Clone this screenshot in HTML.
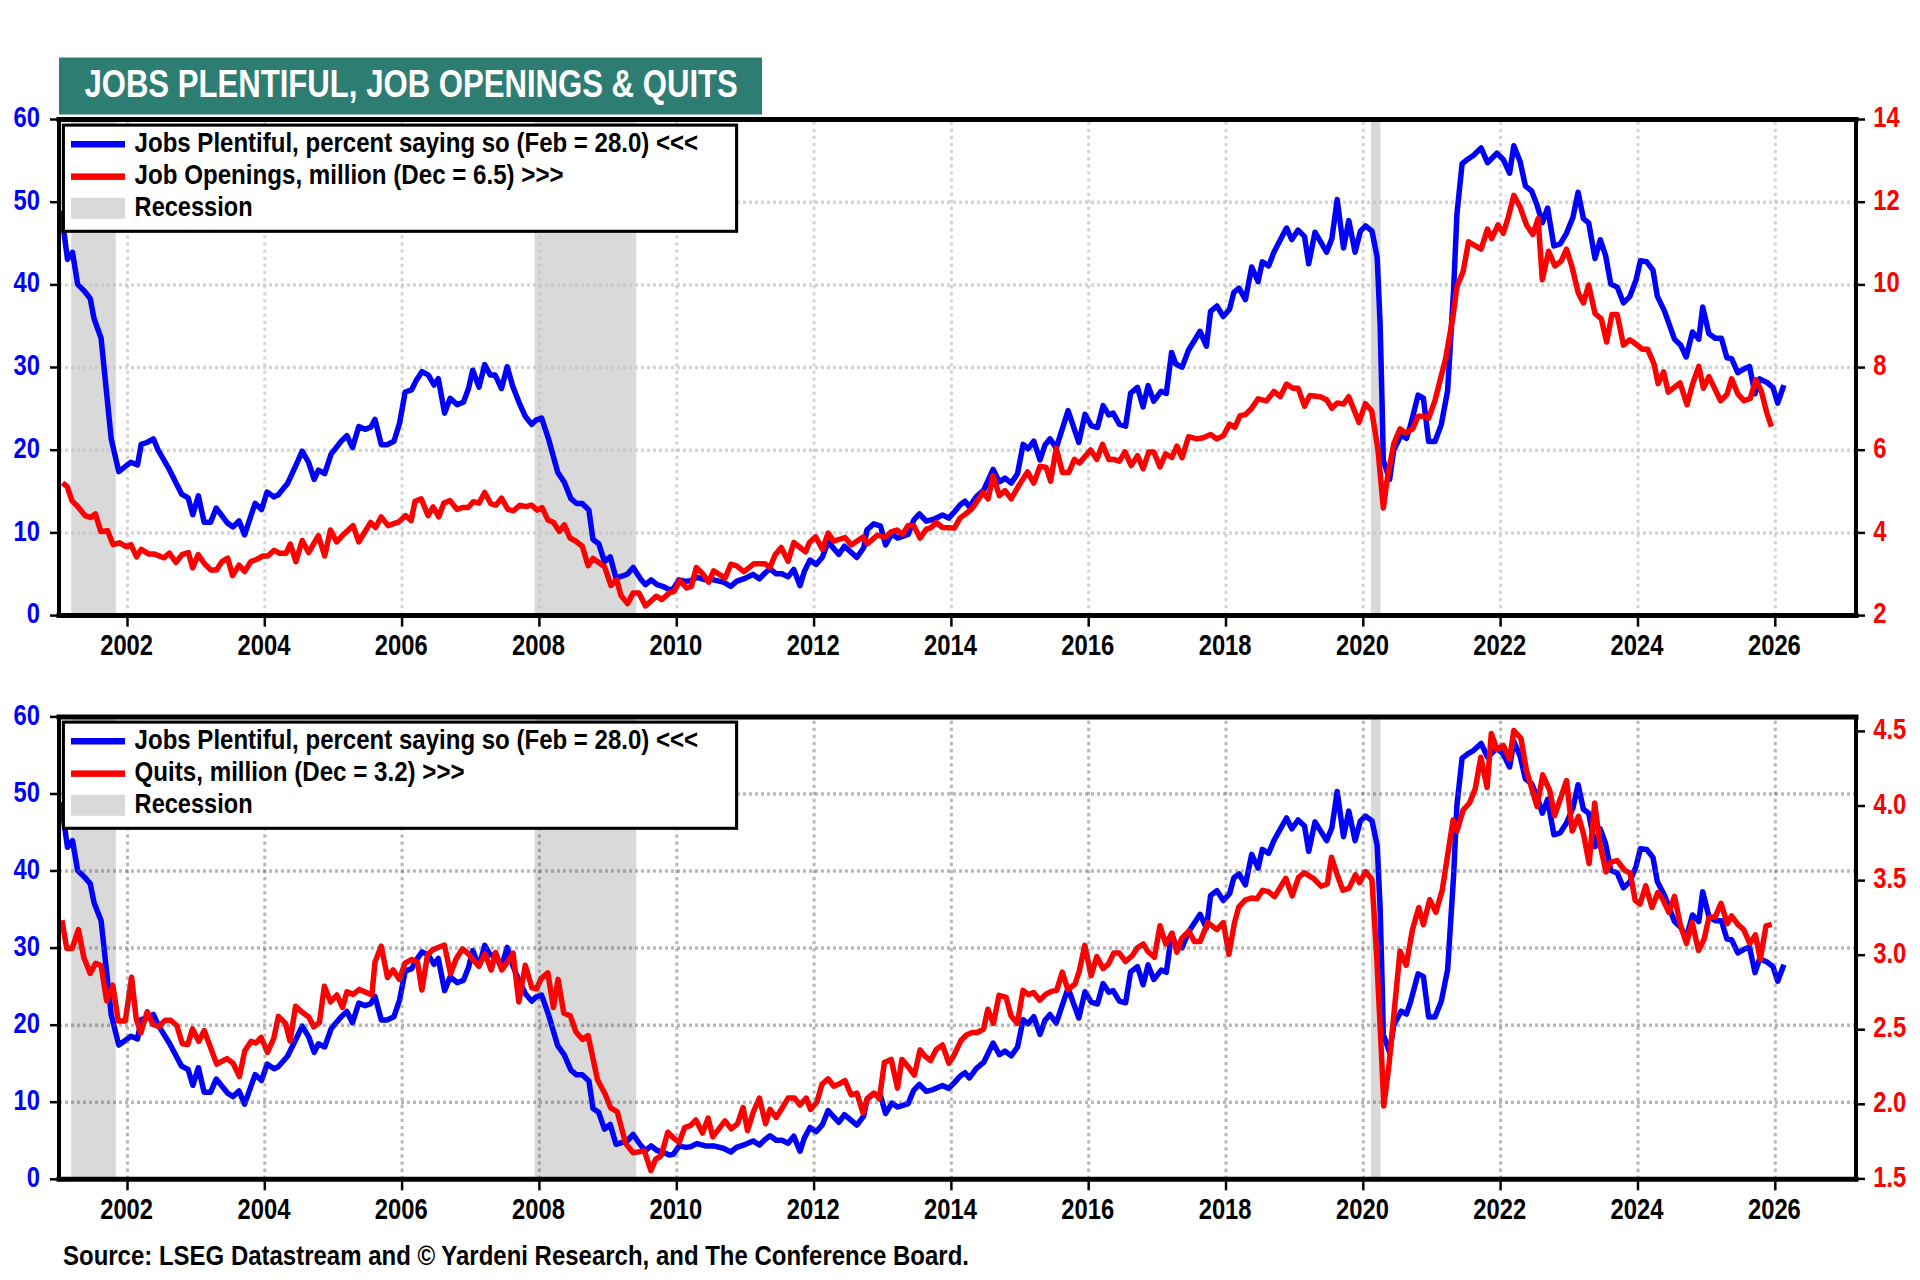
<!DOCTYPE html><html><head><meta charset="utf-8"><style>html,body{margin:0;padding:0;background:#fff;width:1920px;height:1280px;overflow:hidden}text{font-family:'Liberation Sans', sans-serif}</style></head><body><svg width="1920" height="1280" viewBox="0 0 1920 1280" style="display:block;font-family:'Liberation Sans', sans-serif"><rect x="59" y="57.5" width="703" height="57" fill="#2e7d72"/>
<text x="84.4" y="96.9" font-size="39.4" font-weight="bold" fill="#fff" text-anchor="start" textLength="653.4" lengthAdjust="spacingAndGlyphs">JOBS PLENTIFUL, JOB OPENINGS &amp; QUITS</text>
<rect x="71.2" y="119.5" width="44.6" height="496.1" fill="#d9d9d9"/>
<rect x="534.6" y="119.5" width="101.6" height="496.1" fill="#d9d9d9"/>
<rect x="1370.9" y="119.5" width="9.6" height="496.1" fill="#d9d9d9"/>
<line x1="61.0" y1="532.9" x2="1854.0" y2="532.9" stroke="rgba(199,199,199,0.74)" stroke-width="3.5" stroke-dasharray="3 3" stroke-dashoffset="2"/>
<line x1="61.0" y1="450.2" x2="1854.0" y2="450.2" stroke="rgba(199,199,199,0.74)" stroke-width="3.5" stroke-dasharray="3 3" stroke-dashoffset="2"/>
<line x1="61.0" y1="367.5" x2="1854.0" y2="367.5" stroke="rgba(199,199,199,0.74)" stroke-width="3.5" stroke-dasharray="3 3" stroke-dashoffset="2"/>
<line x1="61.0" y1="284.9" x2="1854.0" y2="284.9" stroke="rgba(199,199,199,0.74)" stroke-width="3.5" stroke-dasharray="3 3" stroke-dashoffset="2"/>
<line x1="61.0" y1="202.2" x2="1854.0" y2="202.2" stroke="rgba(199,199,199,0.74)" stroke-width="3.5" stroke-dasharray="3 3" stroke-dashoffset="2"/>
<line x1="127.5" y1="121.5" x2="127.5" y2="613.6" stroke="rgba(199,199,199,0.74)" stroke-width="3" stroke-dasharray="3.3 3.81" stroke-dashoffset="7.06"/>
<line x1="264.8" y1="121.5" x2="264.8" y2="613.6" stroke="rgba(199,199,199,0.74)" stroke-width="3" stroke-dasharray="3.3 3.81" stroke-dashoffset="7.06"/>
<line x1="402.1" y1="121.5" x2="402.1" y2="613.6" stroke="rgba(199,199,199,0.74)" stroke-width="3" stroke-dasharray="3.3 3.81" stroke-dashoffset="7.06"/>
<line x1="539.4" y1="121.5" x2="539.4" y2="613.6" stroke="rgba(199,199,199,0.74)" stroke-width="3" stroke-dasharray="3.3 3.81" stroke-dashoffset="7.06"/>
<line x1="676.8" y1="121.5" x2="676.8" y2="613.6" stroke="rgba(199,199,199,0.74)" stroke-width="3" stroke-dasharray="3.3 3.81" stroke-dashoffset="7.06"/>
<line x1="814.1" y1="121.5" x2="814.1" y2="613.6" stroke="rgba(199,199,199,0.74)" stroke-width="3" stroke-dasharray="3.3 3.81" stroke-dashoffset="7.06"/>
<line x1="951.4" y1="121.5" x2="951.4" y2="613.6" stroke="rgba(199,199,199,0.74)" stroke-width="3" stroke-dasharray="3.3 3.81" stroke-dashoffset="7.06"/>
<line x1="1088.7" y1="121.5" x2="1088.7" y2="613.6" stroke="rgba(199,199,199,0.74)" stroke-width="3" stroke-dasharray="3.3 3.81" stroke-dashoffset="7.06"/>
<line x1="1226.0" y1="121.5" x2="1226.0" y2="613.6" stroke="rgba(199,199,199,0.74)" stroke-width="3" stroke-dasharray="3.3 3.81" stroke-dashoffset="7.06"/>
<line x1="1363.3" y1="121.5" x2="1363.3" y2="613.6" stroke="rgba(199,199,199,0.74)" stroke-width="3" stroke-dasharray="3.3 3.81" stroke-dashoffset="7.06"/>
<line x1="1500.6" y1="121.5" x2="1500.6" y2="613.6" stroke="rgba(199,199,199,0.74)" stroke-width="3" stroke-dasharray="3.3 3.81" stroke-dashoffset="7.06"/>
<line x1="1638.0" y1="121.5" x2="1638.0" y2="613.6" stroke="rgba(199,199,199,0.74)" stroke-width="3" stroke-dasharray="3.3 3.81" stroke-dashoffset="7.06"/>
<line x1="1775.3" y1="121.5" x2="1775.3" y2="613.6" stroke="rgba(199,199,199,0.74)" stroke-width="3" stroke-dasharray="3.3 3.81" stroke-dashoffset="7.06"/>
<polyline fill="none" stroke="#0000ff" stroke-width="5.5" stroke-linejoin="round" points="61.2,210.9 67.5,259.4 72.5,252.3 77.7,284.4 83.9,290.6 90.2,298.4 94.1,318.8 101.1,338.3 111.2,438.8 118.8,471.6 130.9,462.2 137.5,465.0 141.2,444.4 146.9,442.5 153.4,438.8 158.1,450.0 169.4,469.7 181.6,494.1 188.1,497.8 192.8,514.7 198.4,495.9 204.1,522.2 210.6,522.2 216.2,508.1 227.5,523.1 233.1,526.9 239.0,520.8 244.6,534.9 255.1,503.3 261.5,509.6 267.1,492.0 274.1,496.9 278.3,494.8 287.5,483.6 295.9,465.3 302.2,451.2 308.6,462.5 314.2,479.4 318.4,470.2 324.7,473.7 331.1,454.1 341.2,441.2 346.9,435.6 352.5,447.6 358.8,426.5 365.1,429.3 370.8,427.2 375.0,419.4 381.3,444.7 386.9,444.7 394.0,441.2 399.6,423.0 405.2,392.0 411.5,389.9 416.5,380.1 422.1,371.6 428.4,375.1 434.0,385.0 438.3,378.7 444.6,413.1 450.2,398.3 457.2,404.7 463.6,401.9 468.5,388.5 472.7,370.2 479.0,387.1 484.7,364.6 490.3,375.1 495.2,375.1 501.5,388.5 507.2,366.7 512.8,386.4 519.1,402.6 525.4,416.6 531.8,424.4 536.0,420.1 541.6,418.0 548.7,439.5 557.7,472.3 564.3,482.2 570.9,498.6 576.6,503.5 582.3,503.5 588.9,510.1 593.0,539.6 598.7,543.7 604.5,561.7 610.2,556.8 616.0,578.1 623.3,575.7 627.5,574.0 633.2,567.5 640.6,579.0 645.5,584.7 651.2,579.8 657.0,584.7 662.7,586.3 669.3,589.6 673.4,588.8 679.1,579.8 685.7,581.4 690.6,580.6 697.2,577.3 705.4,579.8 713.6,579.8 723.4,582.2 730.8,586.3 736.5,581.4 745.6,578.1 753.1,574.4 759.4,578.8 765.6,572.5 770.0,568.8 776.2,573.8 781.9,573.8 788.1,576.9 793.8,569.4 800.0,585.6 804.4,571.2 810.0,560.0 816.2,564.4 822.5,556.9 828.1,541.9 838.8,554.4 844.4,546.2 856.9,557.5 863.8,547.5 866.9,530.0 873.8,523.8 880.6,526.2 885.6,545.0 891.9,533.8 897.5,538.1 908.1,534.4 913.8,520.0 919.4,513.8 926.2,521.2 933.1,519.4 942.5,515.0 948.8,518.1 954.4,511.9 960.0,505.0 965.0,501.2 969.4,506.9 976.2,496.9 983.8,490.0 993.1,469.4 999.4,481.9 1005.0,478.1 1011.2,483.1 1017.5,473.8 1023.1,444.4 1028.1,448.8 1033.8,441.2 1040.0,460.0 1045.0,445.0 1050.0,438.8 1056.2,448.1 1068.1,410.6 1078.8,442.5 1085.0,414.4 1091.2,425.6 1097.5,427.5 1103.1,405.6 1108.8,415.0 1113.1,413.1 1119.4,424.4 1125.6,426.2 1130.6,393.1 1137.5,387.5 1143.1,406.9 1148.1,385.6 1153.8,401.2 1161.2,391.2 1166.3,393.5 1171.6,352.4 1175.8,364.0 1182.1,367.2 1188.5,350.3 1200.1,331.3 1206.4,346.1 1210.6,311.3 1216.9,306.0 1223.3,316.5 1229.6,309.2 1233.8,292.3 1239.1,288.1 1245.4,299.7 1251.7,267.0 1258.1,281.7 1262.3,261.7 1268.6,265.9 1273.9,252.2 1286.5,228.0 1291.8,239.6 1298.1,230.1 1304.5,236.4 1308.7,263.8 1315.0,232.2 1326.6,252.2 1331.9,238.5 1337.2,199.5 1343.5,248.0 1348.8,220.6 1355.1,252.2 1360.4,231.1 1365.6,225.9 1372.0,231.1 1377.2,257.5 1380.1,323.3 1382.2,407.7 1383.3,460.5 1389.6,479.5 1393.8,449.9 1401.2,435.1 1406.5,438.3 1410.7,424.6 1418.1,395.1 1423.4,398.2 1428.6,441.5 1435.0,441.5 1441.3,424.6 1447.6,390.8 1453.7,288.2 1456.9,214.4 1462.1,163.7 1467.4,159.5 1473.7,155.3 1481.1,147.9 1487.5,162.7 1496.9,153.2 1503.3,159.5 1509.6,173.2 1513.8,145.8 1520.1,161.6 1525.4,185.9 1531.7,191.2 1537.0,204.9 1542.3,222.8 1547.6,208.0 1553.9,246.0 1560.2,243.9 1566.5,233.3 1572.9,217.5 1578.1,192.2 1583.4,218.6 1588.7,222.8 1595.0,258.6 1600.3,239.7 1605.6,255.5 1610.8,284.0 1617.2,287.1 1623.5,302.9 1629.8,296.6 1636.1,279.7 1640.4,260.8 1646.7,261.8 1653.0,270.2 1657.3,296.1 1664.4,310.9 1674.5,339.1 1680.8,345.3 1686.2,357.0 1692.5,332.0 1698.8,339.1 1702.7,307.0 1708.9,333.6 1715.2,338.3 1721.4,338.3 1726.9,357.8 1731.6,358.6 1737.8,372.7 1744.1,368.8 1749.5,366.4 1755.0,393.8 1759.7,378.9 1767.5,382.8 1773.0,387.5 1777.7,403.1 1783.9,385.2"/>
<polyline fill="none" stroke="#ff0000" stroke-width="5.5" stroke-linejoin="round" points="62.5,482.8 67.2,486.6 71.9,500.6 77.5,506.2 85.0,515.6 90.6,517.5 95.3,513.8 100.9,531.6 107.5,530.6 113.1,544.7 119.7,542.8 126.2,546.6 130.9,544.7 136.6,556.9 141.2,549.4 148.8,554.1 154.4,554.1 163.8,557.8 169.4,553.1 175.9,562.5 182.0,554.6 188.4,552.5 192.6,567.9 198.2,554.6 204.5,563.7 210.9,570.1 216.5,570.1 222.1,561.6 227.7,558.1 232.6,575.7 239.0,565.1 244.6,571.5 250.9,561.6 256.5,559.5 262.9,556.0 267.8,556.0 274.1,550.4 279.7,553.2 286.1,553.2 290.3,544.0 295.9,561.6 302.2,540.5 308.6,552.5 318.4,535.6 324.7,556.0 330.4,530.0 336.7,541.9 343.7,534.2 353.1,525.6 358.8,541.9 370.6,522.5 375.6,527.5 381.2,516.9 388.1,525.6 398.8,521.9 405.6,515.6 411.2,520.6 415.0,501.2 421.2,498.8 428.1,515.6 433.1,506.9 438.8,516.9 443.8,503.1 450.0,500.6 456.9,509.4 462.5,507.5 468.1,507.5 473.4,501.7 479.0,503.1 484.7,492.5 491.0,503.8 495.9,505.2 501.5,498.2 507.9,509.4 513.5,510.8 519.8,505.2 526.1,506.6 531.1,505.2 531.5,505.1 537.2,510.1 542.1,507.6 547.9,519.9 553.6,522.4 559.4,531.4 564.3,524.8 570.0,538.0 575.8,541.2 582.3,546.2 588.1,565.8 593.0,558.5 598.7,562.6 604.5,566.7 611.0,585.5 616.8,579.8 620.9,595.4 627.5,603.6 633.2,592.9 638.9,592.9 645.5,606.0 656.2,596.2 661.9,599.5 669.3,592.9 674.2,591.3 679.9,580.6 686.5,588.0 691.4,586.3 696.3,567.5 702.9,574.0 708.7,582.2 713.6,570.8 725.1,578.1 730.8,564.2 736.5,565.8 743.9,571.6 753.8,563.8 765.0,563.8 770.0,567.5 775.0,555.0 781.2,547.5 788.1,561.2 793.8,542.5 800.0,547.5 805.6,551.9 809.4,542.5 815.6,536.9 822.5,549.4 828.1,533.1 833.8,541.2 845.0,537.5 851.2,545.0 863.1,536.9 867.5,543.8 877.5,535.0 885.0,537.5 891.2,531.9 896.9,530.0 902.5,534.4 908.1,525.6 913.8,525.6 920.0,538.1 926.2,529.4 931.2,527.5 936.2,522.5 942.5,527.5 954.4,528.1 960.0,518.1 965.0,514.4 971.9,508.8 983.1,492.5 988.1,498.8 993.1,475.6 999.4,495.6 1005.0,490.6 1011.2,498.8 1018.8,485.6 1027.5,471.9 1033.8,483.1 1040.0,466.2 1046.2,467.5 1050.6,481.2 1056.2,448.1 1062.5,472.5 1068.8,472.5 1074.4,459.4 1079.4,463.1 1090.6,450.0 1096.9,459.4 1102.5,444.4 1108.8,459.4 1113.8,459.4 1119.4,461.2 1125.0,451.9 1131.2,465.6 1137.5,455.6 1143.1,468.8 1148.8,451.9 1153.8,451.9 1160.0,466.9 1165.6,453.8 1171.9,457.5 1176.9,446.2 1182.1,457.8 1188.5,436.7 1196.9,438.9 1203.2,437.8 1210.6,434.6 1216.9,438.9 1223.3,435.7 1229.6,424.1 1234.9,427.3 1240.1,415.7 1245.4,414.6 1251.7,408.3 1258.1,398.8 1266.5,400.9 1273.9,391.4 1280.2,396.7 1286.5,384.0 1292.9,388.2 1298.1,388.2 1304.5,406.2 1309.7,395.6 1320.3,396.7 1326.6,399.8 1331.9,408.3 1337.2,403.0 1343.5,404.1 1348.8,396.7 1359.0,422.5 1365.3,403.5 1371.7,410.9 1378.0,449.9 1383.3,507.9 1387.5,477.4 1393.8,443.6 1400.1,428.8 1405.4,433.0 1412.8,428.8 1418.1,416.2 1423.4,416.2 1428.6,418.3 1435.0,400.3 1445.5,359.2 1452.9,317.0 1456.9,287.1 1463.2,271.3 1468.5,241.8 1481.1,249.2 1487.5,229.1 1491.7,238.6 1498.0,224.9 1503.3,233.3 1508.5,216.5 1513.8,195.4 1520.1,207.0 1526.5,224.9 1532.8,234.4 1538.1,218.6 1542.3,279.7 1548.6,251.3 1554.9,266.0 1561.3,260.8 1566.5,249.2 1571.8,266.0 1578.1,292.4 1583.4,302.9 1588.7,285.0 1595.0,313.5 1601.3,318.8 1606.6,342.0 1611.9,314.5 1617.2,314.5 1623.5,345.1 1629.8,339.8 1637.2,345.1 1642.5,349.3 1647.7,349.3 1654.1,364.1 1658.1,383.6 1663.6,371.9 1668.3,392.2 1680.0,382.8 1687.0,404.7 1692.5,384.4 1698.8,366.4 1703.4,388.3 1708.9,376.6 1720.6,400.8 1726.9,394.5 1731.6,378.9 1737.8,393.8 1744.1,400.8 1750.3,398.4 1755.8,379.7 1761.2,390.6 1766.7,412.5 1771.4,426.6"/>
<path d="M59.0,119.5H1856.0M59.0,615.6H1856.0" fill="none" stroke="#000" stroke-width="5" stroke-linecap="square"/>
<path d="M59.0,119.5V615.6M1856.0,119.5V615.6" fill="none" stroke="#000" stroke-width="4" stroke-linecap="square"/>
<line x1="50" y1="615.6" x2="59.0" y2="615.6" stroke="#000" stroke-width="2.5"/>
<line x1="1856.0" y1="615.6" x2="1865" y2="615.6" stroke="#000" stroke-width="2.5"/>
<text transform="translate(40.00,623.20) scale(0.82,1)" font-size="29" font-weight="bold" fill="#0000ff" text-anchor="end">0</text>
<text transform="translate(1873.20,623.20) scale(0.82,1)" font-size="29" font-weight="bold" fill="#ff0000" text-anchor="start">2</text>
<line x1="50" y1="532.9" x2="59.0" y2="532.9" stroke="#000" stroke-width="2.5"/>
<line x1="1856.0" y1="532.9" x2="1865" y2="532.9" stroke="#000" stroke-width="2.5"/>
<text transform="translate(40.00,540.52) scale(0.82,1)" font-size="29" font-weight="bold" fill="#0000ff" text-anchor="end">10</text>
<text transform="translate(1873.20,540.52) scale(0.82,1)" font-size="29" font-weight="bold" fill="#ff0000" text-anchor="start">4</text>
<line x1="50" y1="450.2" x2="59.0" y2="450.2" stroke="#000" stroke-width="2.5"/>
<line x1="1856.0" y1="450.2" x2="1865" y2="450.2" stroke="#000" stroke-width="2.5"/>
<text transform="translate(40.00,457.83) scale(0.82,1)" font-size="29" font-weight="bold" fill="#0000ff" text-anchor="end">20</text>
<text transform="translate(1873.20,457.83) scale(0.82,1)" font-size="29" font-weight="bold" fill="#ff0000" text-anchor="start">6</text>
<line x1="50" y1="367.5" x2="59.0" y2="367.5" stroke="#000" stroke-width="2.5"/>
<line x1="1856.0" y1="367.6" x2="1865" y2="367.6" stroke="#000" stroke-width="2.5"/>
<text transform="translate(40.00,375.15) scale(0.82,1)" font-size="29" font-weight="bold" fill="#0000ff" text-anchor="end">30</text>
<text transform="translate(1873.20,375.15) scale(0.82,1)" font-size="29" font-weight="bold" fill="#ff0000" text-anchor="start">8</text>
<line x1="50" y1="284.9" x2="59.0" y2="284.9" stroke="#000" stroke-width="2.5"/>
<line x1="1856.0" y1="284.9" x2="1865" y2="284.9" stroke="#000" stroke-width="2.5"/>
<text transform="translate(40.00,292.47) scale(0.82,1)" font-size="29" font-weight="bold" fill="#0000ff" text-anchor="end">40</text>
<text transform="translate(1873.20,292.47) scale(0.82,1)" font-size="29" font-weight="bold" fill="#ff0000" text-anchor="start">10</text>
<line x1="50" y1="202.2" x2="59.0" y2="202.2" stroke="#000" stroke-width="2.5"/>
<line x1="1856.0" y1="202.2" x2="1865" y2="202.2" stroke="#000" stroke-width="2.5"/>
<text transform="translate(40.00,209.78) scale(0.82,1)" font-size="29" font-weight="bold" fill="#0000ff" text-anchor="end">50</text>
<text transform="translate(1873.20,209.78) scale(0.82,1)" font-size="29" font-weight="bold" fill="#ff0000" text-anchor="start">12</text>
<line x1="50" y1="119.5" x2="59.0" y2="119.5" stroke="#000" stroke-width="2.5"/>
<line x1="1856.0" y1="119.5" x2="1865" y2="119.5" stroke="#000" stroke-width="2.5"/>
<text transform="translate(40.00,127.10) scale(0.82,1)" font-size="29" font-weight="bold" fill="#0000ff" text-anchor="end">60</text>
<text transform="translate(1873.20,127.10) scale(0.82,1)" font-size="29" font-weight="bold" fill="#ff0000" text-anchor="start">14</text>
<line x1="127.5" y1="617.6" x2="127.5" y2="626.6" stroke="#000" stroke-width="2.5"/>
<text transform="translate(126.60,655.20) scale(0.82,1)" font-size="29" font-weight="bold" fill="#000" text-anchor="middle">2002</text>
<line x1="264.8" y1="617.6" x2="264.8" y2="626.6" stroke="#000" stroke-width="2.5"/>
<text transform="translate(263.91,655.20) scale(0.82,1)" font-size="29" font-weight="bold" fill="#000" text-anchor="middle">2004</text>
<line x1="402.1" y1="617.6" x2="402.1" y2="626.6" stroke="#000" stroke-width="2.5"/>
<text transform="translate(401.23,655.20) scale(0.82,1)" font-size="29" font-weight="bold" fill="#000" text-anchor="middle">2006</text>
<line x1="539.4" y1="617.6" x2="539.4" y2="626.6" stroke="#000" stroke-width="2.5"/>
<text transform="translate(538.54,655.20) scale(0.82,1)" font-size="29" font-weight="bold" fill="#000" text-anchor="middle">2008</text>
<line x1="676.8" y1="617.6" x2="676.8" y2="626.6" stroke="#000" stroke-width="2.5"/>
<text transform="translate(675.86,655.20) scale(0.82,1)" font-size="29" font-weight="bold" fill="#000" text-anchor="middle">2010</text>
<line x1="814.1" y1="617.6" x2="814.1" y2="626.6" stroke="#000" stroke-width="2.5"/>
<text transform="translate(813.17,655.20) scale(0.82,1)" font-size="29" font-weight="bold" fill="#000" text-anchor="middle">2012</text>
<line x1="951.4" y1="617.6" x2="951.4" y2="626.6" stroke="#000" stroke-width="2.5"/>
<text transform="translate(950.48,655.20) scale(0.82,1)" font-size="29" font-weight="bold" fill="#000" text-anchor="middle">2014</text>
<line x1="1088.7" y1="617.6" x2="1088.7" y2="626.6" stroke="#000" stroke-width="2.5"/>
<text transform="translate(1087.80,655.20) scale(0.82,1)" font-size="29" font-weight="bold" fill="#000" text-anchor="middle">2016</text>
<line x1="1226.0" y1="617.6" x2="1226.0" y2="626.6" stroke="#000" stroke-width="2.5"/>
<text transform="translate(1225.11,655.20) scale(0.82,1)" font-size="29" font-weight="bold" fill="#000" text-anchor="middle">2018</text>
<line x1="1363.3" y1="617.6" x2="1363.3" y2="626.6" stroke="#000" stroke-width="2.5"/>
<text transform="translate(1362.43,655.20) scale(0.82,1)" font-size="29" font-weight="bold" fill="#000" text-anchor="middle">2020</text>
<line x1="1500.6" y1="617.6" x2="1500.6" y2="626.6" stroke="#000" stroke-width="2.5"/>
<text transform="translate(1499.74,655.20) scale(0.82,1)" font-size="29" font-weight="bold" fill="#000" text-anchor="middle">2022</text>
<line x1="1638.0" y1="617.6" x2="1638.0" y2="626.6" stroke="#000" stroke-width="2.5"/>
<text transform="translate(1637.05,655.20) scale(0.82,1)" font-size="29" font-weight="bold" fill="#000" text-anchor="middle">2024</text>
<line x1="1775.3" y1="617.6" x2="1775.3" y2="626.6" stroke="#000" stroke-width="2.5"/>
<text transform="translate(1774.37,655.20) scale(0.82,1)" font-size="29" font-weight="bold" fill="#000" text-anchor="middle">2026</text>
<rect x="63.4" y="125.1" width="673.2" height="106.2" fill="#fff" stroke="#000" stroke-width="3.1"/>
<rect x="71" y="141" width="54" height="6.5" fill="#0000ff"/>
<rect x="71" y="173.4" width="54" height="6.5" fill="#ff0000"/>
<rect x="71" y="197.8" width="54" height="21" fill="#d9d9d9"/>
<text x="134.6" y="152" font-size="28.5" font-weight="bold" fill="#000" text-anchor="start" textLength="563.5" lengthAdjust="spacingAndGlyphs">Jobs Plentiful, percent saying so (Feb = 28.0) &lt;&lt;&lt;</text>
<text x="134.6" y="184" font-size="28.5" font-weight="bold" fill="#000" text-anchor="start" textLength="429" lengthAdjust="spacingAndGlyphs">Job Openings, million (Dec = 6.5) &gt;&gt;&gt;</text>
<text x="134.6" y="216" font-size="28.5" font-weight="bold" fill="#000" text-anchor="start" textLength="118" lengthAdjust="spacingAndGlyphs">Recession</text>
<rect x="71.2" y="716.9" width="44.6" height="462.4" fill="#d9d9d9"/>
<rect x="534.6" y="716.9" width="101.6" height="462.4" fill="#d9d9d9"/>
<rect x="1370.9" y="716.9" width="9.6" height="462.4" fill="#d9d9d9"/>
<polyline fill="none" stroke="#0000ff" stroke-width="5.5" stroke-linejoin="round" points="61.2,802.1 67.5,847.3 72.5,840.7 77.7,870.6 83.9,876.4 90.2,883.6 94.1,902.7 101.1,920.8 111.2,1014.5 118.8,1045.1 130.9,1036.3 137.5,1038.9 141.2,1019.7 146.9,1018.0 153.4,1014.5 158.1,1024.9 169.4,1043.3 181.6,1066.1 188.1,1069.5 192.8,1085.3 198.4,1067.7 204.1,1092.2 210.6,1092.2 216.2,1079.1 227.5,1093.1 233.1,1096.6 239.0,1090.9 244.6,1104.1 255.1,1074.6 261.5,1080.5 267.1,1064.1 274.1,1068.7 278.3,1066.7 287.5,1056.3 295.9,1039.2 302.2,1026.1 308.6,1036.6 314.2,1052.4 318.4,1043.8 324.7,1047.0 331.1,1028.8 341.2,1016.7 346.9,1011.5 352.5,1022.7 358.8,1003.0 365.1,1005.7 370.8,1003.7 375.0,996.4 381.3,1020.0 386.9,1020.0 394.0,1016.7 399.6,999.8 405.2,970.9 411.5,968.9 416.5,959.8 422.1,951.9 428.4,955.1 434.0,964.4 438.3,958.5 444.6,990.6 450.2,976.8 457.2,982.7 463.6,980.1 468.5,967.6 472.7,950.6 479.0,966.3 484.7,945.4 490.3,955.1 495.2,955.1 501.5,967.6 507.2,947.3 512.8,965.7 519.1,980.8 525.4,993.8 531.8,1001.1 536.0,997.1 541.6,995.1 548.7,1015.2 557.7,1045.7 564.3,1055.0 570.9,1070.2 576.6,1074.8 582.3,1074.8 588.9,1081.0 593.0,1108.5 598.7,1112.3 604.5,1129.1 610.2,1124.5 616.0,1144.3 623.3,1142.1 627.5,1140.5 633.2,1134.5 640.6,1145.2 645.5,1150.5 651.2,1145.9 657.0,1150.5 662.7,1152.0 669.3,1155.1 673.4,1154.3 679.1,1145.9 685.7,1147.4 690.6,1146.7 697.2,1143.6 705.4,1145.9 713.6,1145.9 723.4,1148.2 730.8,1152.0 736.5,1147.4 745.6,1144.3 753.1,1140.9 759.4,1145.0 765.6,1139.1 770.0,1135.7 776.2,1140.3 781.9,1140.3 788.1,1143.2 793.8,1136.2 800.0,1151.3 804.4,1137.9 810.0,1127.5 816.2,1131.6 822.5,1124.6 828.1,1110.6 838.8,1122.3 844.4,1114.6 856.9,1125.1 863.8,1115.8 866.9,1099.5 873.8,1093.7 880.6,1096.0 885.6,1113.5 891.9,1103.1 897.5,1107.1 908.1,1103.6 913.8,1090.2 919.4,1084.4 926.2,1091.3 933.1,1089.6 942.5,1085.5 948.8,1088.4 954.4,1082.6 960.0,1076.2 965.0,1072.7 969.4,1078.0 976.2,1068.7 983.8,1062.2 993.1,1043.0 999.4,1054.7 1005.0,1051.1 1011.2,1055.8 1017.5,1047.1 1023.1,1019.7 1028.1,1023.8 1033.8,1016.7 1040.0,1034.3 1045.0,1020.3 1050.0,1014.5 1056.2,1023.2 1068.1,988.2 1078.8,1018.0 1085.0,991.8 1091.2,1002.2 1097.5,1004.0 1103.1,983.6 1108.8,992.3 1113.1,990.6 1119.4,1001.1 1125.6,1002.8 1130.6,971.9 1137.5,966.7 1143.1,984.8 1148.1,964.9 1153.8,979.5 1161.2,970.1 1166.3,972.3 1171.6,934.0 1175.8,944.8 1182.1,947.8 1188.5,932.0 1200.1,914.3 1206.4,928.1 1210.6,895.7 1216.9,890.7 1223.3,900.5 1229.6,893.7 1233.8,878.0 1239.1,874.0 1245.4,884.9 1251.7,854.4 1258.1,868.1 1262.3,849.4 1268.6,853.4 1273.9,840.6 1286.5,818.0 1291.8,828.8 1298.1,820.0 1304.5,825.9 1308.7,851.4 1315.0,821.9 1326.6,840.6 1331.9,827.8 1337.2,791.5 1343.5,836.7 1348.8,811.1 1355.1,840.6 1360.4,820.9 1365.6,816.1 1372.0,820.9 1377.2,845.5 1380.1,906.9 1382.2,985.5 1383.3,1034.7 1389.6,1052.4 1393.8,1024.9 1401.2,1011.1 1406.5,1014.0 1410.7,1001.3 1418.1,973.8 1423.4,976.7 1428.6,1017.0 1435.0,1017.0 1441.3,1001.3 1447.6,969.8 1453.7,874.1 1456.9,805.4 1462.1,758.1 1467.4,754.2 1473.7,750.3 1481.1,743.4 1487.5,757.2 1496.9,748.3 1503.3,754.2 1509.6,767.0 1513.8,741.4 1520.1,756.1 1525.4,778.8 1531.7,783.7 1537.0,796.5 1542.3,813.2 1547.6,799.4 1553.9,834.8 1560.2,832.8 1566.5,823.0 1572.9,808.2 1578.1,784.7 1583.4,809.3 1588.7,813.2 1595.0,846.6 1600.3,828.9 1605.6,843.7 1610.8,870.2 1617.2,873.1 1623.5,887.8 1629.8,882.0 1636.1,866.2 1640.4,848.6 1646.7,849.5 1653.0,857.4 1657.3,881.5 1664.4,895.3 1674.5,921.6 1680.8,927.4 1686.2,938.3 1692.5,915.0 1698.8,921.6 1702.7,891.7 1708.9,916.5 1715.2,920.8 1721.4,920.8 1726.9,939.0 1731.6,939.8 1737.8,952.9 1744.1,949.3 1749.5,947.0 1755.0,972.6 1759.7,958.7 1767.5,962.3 1773.0,966.7 1777.7,981.2 1783.9,964.6"/>
<polyline fill="none" stroke="#ff0000" stroke-width="5.5" stroke-linejoin="round" points="62.0,920.3 66.7,948.4 72.2,948.4 78.4,929.7 83.9,957.8 90.2,973.4 95.6,963.3 101.1,965.6 106.6,1000.8 112.8,985.2 118.3,1021.1 125.3,1021.1 131.6,977.3 136.2,1018.8 140.9,1032.8 147.2,1011.7 152.7,1024.2 158.9,1026.6 165.2,1020.3 170.6,1020.3 176.9,1025.8 182.3,1043.8 187.8,1044.5 192.5,1028.9 198.8,1041.4 204.2,1030.5 209.7,1045.3 216.7,1064.1 226.9,1058.6 233.1,1063.3 239.4,1076.6 244.8,1050.8 251.1,1041.4 255.8,1043.0 261.2,1037.5 267.5,1052.3 273.8,1038.3 278.4,1016.4 285.5,1023.4 290.0,1041.2 295.6,1006.2 302.5,1012.5 308.8,1016.9 313.8,1026.9 319.4,1022.5 324.4,986.2 330.6,1001.9 336.9,995.0 342.5,1007.5 346.9,991.9 353.1,994.4 359.4,989.4 371.9,995.0 375.0,961.9 381.2,946.2 387.5,977.5 393.1,970.0 399.4,979.4 405.0,963.1 411.9,959.4 417.5,962.5 421.9,990.0 427.5,955.0 432.5,950.0 438.1,947.5 444.4,945.0 450.6,973.8 456.2,958.8 462.5,948.8 467.5,953.1 473.8,960.6 478.8,966.2 485.0,953.8 491.2,970.0 495.6,952.5 501.9,970.0 507.5,961.9 513.1,953.1 518.8,1001.9 525.3,965.3 531.9,987.8 536.6,988.8 541.2,978.4 547.8,972.8 553.4,1007.5 558.1,979.4 563.8,1013.1 570.3,1015.9 575.9,1031.9 582.5,1039.4 588.1,1035.6 597.5,1079.7 605.0,1093.8 610.6,1107.8 617.2,1111.6 625.6,1143.4 633.1,1152.8 644.4,1150.9 650.9,1170.6 655.6,1159.4 661.2,1155.6 667.8,1132.2 673.4,1137.8 679.1,1142.5 684.7,1127.5 690.3,1125.6 695.9,1120.0 702.5,1133.1 708.1,1118.1 712.8,1136.9 725.0,1120.9 731.2,1128.8 737.5,1123.8 743.1,1107.5 747.5,1130.6 753.1,1112.5 759.4,1098.1 765.6,1123.8 770.0,1109.4 776.2,1117.5 782.5,1107.5 788.1,1098.1 794.4,1098.1 800.0,1105.0 806.2,1098.1 810.6,1109.4 816.9,1101.9 821.9,1084.4 828.1,1078.8 833.8,1086.2 839.4,1083.8 845.0,1080.6 851.2,1095.0 856.9,1093.1 863.1,1113.1 867.5,1098.1 873.8,1093.1 879.4,1098.8 884.4,1062.5 891.2,1059.4 897.5,1088.1 901.9,1059.4 908.8,1067.5 914.4,1075.0 920.0,1050.0 925.0,1056.2 930.6,1060.6 936.2,1049.4 942.5,1045.0 948.8,1063.1 953.4,1056.4 961.1,1040.3 966.7,1034.7 972.3,1032.5 977.3,1032.5 983.6,1029.0 987.8,1009.3 993.4,1023.4 999.1,995.3 1006.1,997.4 1011.0,1015.7 1017.3,1023.4 1023.0,990.4 1028.6,994.6 1033.5,992.5 1039.8,1000.2 1046.2,993.9 1052.5,991.1 1056.7,990.4 1062.3,972.1 1067.9,989.7 1075.0,984.0 1079.2,971.4 1084.8,945.4 1091.1,975.6 1096.8,956.6 1103.1,968.6 1108.7,963.7 1113.6,953.1 1119.3,953.1 1125.6,961.5 1132.6,955.2 1137.5,947.5 1143.2,944.0 1148.1,951.7 1154.4,957.3 1160.0,925.7 1165.7,944.0 1172.0,933.2 1176.9,952.2 1181.8,938.1 1188.8,931.1 1194.4,941.6 1200.1,941.6 1207.8,922.6 1216.9,929.7 1223.3,922.6 1228.9,954.3 1234.5,922.6 1238.7,907.2 1245.1,900.1 1251.4,898.0 1257.0,898.7 1262.6,890.3 1268.3,891.7 1274.6,896.6 1285.8,878.3 1292.2,895.9 1298.5,877.6 1304.1,872.7 1313.3,878.3 1321.0,886.1 1327.3,884.0 1331.5,857.3 1337.2,874.8 1342.8,890.3 1349.1,888.2 1355.4,874.8 1359.6,882.6 1365.6,871.6 1371.9,879.4 1376.6,954.4 1381.2,1048.1 1383.8,1105.9 1389.1,1063.8 1400.0,951.2 1406.2,965.3 1412.5,929.4 1418.8,907.5 1423.4,924.7 1429.7,899.7 1435.9,912.2 1442.2,890.3 1453.1,820.0 1456.9,831.1 1463.2,810.0 1469.5,803.0 1475.2,788.9 1480.8,757.3 1487.1,787.5 1491.3,733.4 1497.0,749.5 1503.3,745.3 1509.6,759.4 1513.8,730.5 1520.9,738.3 1526.5,770.6 1537.0,806.5 1542.7,774.9 1549.7,790.3 1554.6,815.6 1566.6,780.5 1572.2,831.1 1578.5,816.3 1583.5,833.9 1589.1,863.5 1594.7,803.0 1599.6,842.4 1606.0,871.9 1610.9,862.1 1617.2,860.6 1624.6,870.2 1630.2,873.1 1635.2,900.5 1640.1,904.0 1645.7,885.7 1652.0,907.5 1657.7,892.7 1662.6,899.1 1668.9,912.4 1674.5,896.3 1680.2,924.4 1686.5,943.4 1692.1,922.3 1698.5,950.4 1704.1,939.2 1709.0,917.4 1715.3,916.7 1721.0,903.3 1727.3,923.7 1731.5,915.9 1737.8,924.4 1743.5,929.3 1749.8,943.4 1755.4,934.9 1760.3,959.5 1766.0,925.8 1771.6,924.4"/>
<line x1="61.0" y1="1102.2" x2="1854.0" y2="1102.2" stroke="rgba(86,86,86,0.42)" stroke-width="3.5" stroke-dasharray="3 3" stroke-dashoffset="2"/>
<line x1="61.0" y1="1025.2" x2="1854.0" y2="1025.2" stroke="rgba(86,86,86,0.42)" stroke-width="3.5" stroke-dasharray="3 3" stroke-dashoffset="2"/>
<line x1="61.0" y1="948.1" x2="1854.0" y2="948.1" stroke="rgba(86,86,86,0.42)" stroke-width="3.5" stroke-dasharray="3 3" stroke-dashoffset="2"/>
<line x1="61.0" y1="871.0" x2="1854.0" y2="871.0" stroke="rgba(86,86,86,0.42)" stroke-width="3.5" stroke-dasharray="3 3" stroke-dashoffset="2"/>
<line x1="61.0" y1="794.0" x2="1854.0" y2="794.0" stroke="rgba(86,86,86,0.42)" stroke-width="3.5" stroke-dasharray="3 3" stroke-dashoffset="2"/>
<line x1="127.5" y1="718.9" x2="127.5" y2="1177.3" stroke="rgba(86,86,86,0.42)" stroke-width="3" stroke-dasharray="3.3 3.81" stroke-dashoffset="5.36"/>
<line x1="264.8" y1="718.9" x2="264.8" y2="1177.3" stroke="rgba(86,86,86,0.42)" stroke-width="3" stroke-dasharray="3.3 3.81" stroke-dashoffset="5.36"/>
<line x1="402.1" y1="718.9" x2="402.1" y2="1177.3" stroke="rgba(86,86,86,0.42)" stroke-width="3" stroke-dasharray="3.3 3.81" stroke-dashoffset="5.36"/>
<line x1="539.4" y1="718.9" x2="539.4" y2="1177.3" stroke="rgba(86,86,86,0.42)" stroke-width="3" stroke-dasharray="3.3 3.81" stroke-dashoffset="5.36"/>
<line x1="676.8" y1="718.9" x2="676.8" y2="1177.3" stroke="rgba(86,86,86,0.42)" stroke-width="3" stroke-dasharray="3.3 3.81" stroke-dashoffset="5.36"/>
<line x1="814.1" y1="718.9" x2="814.1" y2="1177.3" stroke="rgba(86,86,86,0.42)" stroke-width="3" stroke-dasharray="3.3 3.81" stroke-dashoffset="5.36"/>
<line x1="951.4" y1="718.9" x2="951.4" y2="1177.3" stroke="rgba(86,86,86,0.42)" stroke-width="3" stroke-dasharray="3.3 3.81" stroke-dashoffset="5.36"/>
<line x1="1088.7" y1="718.9" x2="1088.7" y2="1177.3" stroke="rgba(86,86,86,0.42)" stroke-width="3" stroke-dasharray="3.3 3.81" stroke-dashoffset="5.36"/>
<line x1="1226.0" y1="718.9" x2="1226.0" y2="1177.3" stroke="rgba(86,86,86,0.42)" stroke-width="3" stroke-dasharray="3.3 3.81" stroke-dashoffset="5.36"/>
<line x1="1363.3" y1="718.9" x2="1363.3" y2="1177.3" stroke="rgba(86,86,86,0.42)" stroke-width="3" stroke-dasharray="3.3 3.81" stroke-dashoffset="5.36"/>
<line x1="1500.6" y1="718.9" x2="1500.6" y2="1177.3" stroke="rgba(86,86,86,0.42)" stroke-width="3" stroke-dasharray="3.3 3.81" stroke-dashoffset="5.36"/>
<line x1="1638.0" y1="718.9" x2="1638.0" y2="1177.3" stroke="rgba(86,86,86,0.42)" stroke-width="3" stroke-dasharray="3.3 3.81" stroke-dashoffset="5.36"/>
<line x1="1775.3" y1="718.9" x2="1775.3" y2="1177.3" stroke="rgba(86,86,86,0.42)" stroke-width="3" stroke-dasharray="3.3 3.81" stroke-dashoffset="5.36"/>
<path d="M59.0,716.9H1856.0M59.0,1179.3H1856.0" fill="none" stroke="#000" stroke-width="5" stroke-linecap="square"/>
<path d="M59.0,716.9V1179.3M1856.0,716.9V1179.3" fill="none" stroke="#000" stroke-width="4" stroke-linecap="square"/>
<line x1="50" y1="1179.3" x2="59.0" y2="1179.3" stroke="#000" stroke-width="2.5"/>
<line x1="1856.0" y1="1178.9" x2="1865" y2="1178.9" stroke="#000" stroke-width="2.5"/>
<text transform="translate(40.00,1186.90) scale(0.82,1)" font-size="29" font-weight="bold" fill="#0000ff" text-anchor="end">0</text>
<text transform="translate(1873.20,1186.50) scale(0.82,1)" font-size="29" font-weight="bold" fill="#ff0000" text-anchor="start">1.5</text>
<line x1="50" y1="1102.2" x2="59.0" y2="1102.2" stroke="#000" stroke-width="2.5"/>
<line x1="1856.0" y1="1104.3" x2="1865" y2="1104.3" stroke="#000" stroke-width="2.5"/>
<text transform="translate(40.00,1109.83) scale(0.82,1)" font-size="29" font-weight="bold" fill="#0000ff" text-anchor="end">10</text>
<text transform="translate(1873.20,1111.92) scale(0.82,1)" font-size="29" font-weight="bold" fill="#ff0000" text-anchor="start">2.0</text>
<line x1="50" y1="1025.2" x2="59.0" y2="1025.2" stroke="#000" stroke-width="2.5"/>
<line x1="1856.0" y1="1029.7" x2="1865" y2="1029.7" stroke="#000" stroke-width="2.5"/>
<text transform="translate(40.00,1032.77) scale(0.82,1)" font-size="29" font-weight="bold" fill="#0000ff" text-anchor="end">20</text>
<text transform="translate(1873.20,1037.34) scale(0.82,1)" font-size="29" font-weight="bold" fill="#ff0000" text-anchor="start">2.5</text>
<line x1="50" y1="948.1" x2="59.0" y2="948.1" stroke="#000" stroke-width="2.5"/>
<line x1="1856.0" y1="955.2" x2="1865" y2="955.2" stroke="#000" stroke-width="2.5"/>
<text transform="translate(40.00,955.70) scale(0.82,1)" font-size="29" font-weight="bold" fill="#0000ff" text-anchor="end">30</text>
<text transform="translate(1873.20,962.76) scale(0.82,1)" font-size="29" font-weight="bold" fill="#ff0000" text-anchor="start">3.0</text>
<line x1="50" y1="871.0" x2="59.0" y2="871.0" stroke="#000" stroke-width="2.5"/>
<line x1="1856.0" y1="880.6" x2="1865" y2="880.6" stroke="#000" stroke-width="2.5"/>
<text transform="translate(40.00,878.63) scale(0.82,1)" font-size="29" font-weight="bold" fill="#0000ff" text-anchor="end">40</text>
<text transform="translate(1873.20,888.18) scale(0.82,1)" font-size="29" font-weight="bold" fill="#ff0000" text-anchor="start">3.5</text>
<line x1="50" y1="794.0" x2="59.0" y2="794.0" stroke="#000" stroke-width="2.5"/>
<line x1="1856.0" y1="806.0" x2="1865" y2="806.0" stroke="#000" stroke-width="2.5"/>
<text transform="translate(40.00,801.57) scale(0.82,1)" font-size="29" font-weight="bold" fill="#0000ff" text-anchor="end">50</text>
<text transform="translate(1873.20,813.60) scale(0.82,1)" font-size="29" font-weight="bold" fill="#ff0000" text-anchor="start">4.0</text>
<line x1="50" y1="716.9" x2="59.0" y2="716.9" stroke="#000" stroke-width="2.5"/>
<line x1="1856.0" y1="731.4" x2="1865" y2="731.4" stroke="#000" stroke-width="2.5"/>
<text transform="translate(40.00,724.50) scale(0.82,1)" font-size="29" font-weight="bold" fill="#0000ff" text-anchor="end">60</text>
<text transform="translate(1873.20,739.02) scale(0.82,1)" font-size="29" font-weight="bold" fill="#ff0000" text-anchor="start">4.5</text>
<line x1="127.5" y1="1181.3" x2="127.5" y2="1190.3" stroke="#000" stroke-width="2.5"/>
<text transform="translate(126.60,1218.90) scale(0.82,1)" font-size="29" font-weight="bold" fill="#000" text-anchor="middle">2002</text>
<line x1="264.8" y1="1181.3" x2="264.8" y2="1190.3" stroke="#000" stroke-width="2.5"/>
<text transform="translate(263.91,1218.90) scale(0.82,1)" font-size="29" font-weight="bold" fill="#000" text-anchor="middle">2004</text>
<line x1="402.1" y1="1181.3" x2="402.1" y2="1190.3" stroke="#000" stroke-width="2.5"/>
<text transform="translate(401.23,1218.90) scale(0.82,1)" font-size="29" font-weight="bold" fill="#000" text-anchor="middle">2006</text>
<line x1="539.4" y1="1181.3" x2="539.4" y2="1190.3" stroke="#000" stroke-width="2.5"/>
<text transform="translate(538.54,1218.90) scale(0.82,1)" font-size="29" font-weight="bold" fill="#000" text-anchor="middle">2008</text>
<line x1="676.8" y1="1181.3" x2="676.8" y2="1190.3" stroke="#000" stroke-width="2.5"/>
<text transform="translate(675.86,1218.90) scale(0.82,1)" font-size="29" font-weight="bold" fill="#000" text-anchor="middle">2010</text>
<line x1="814.1" y1="1181.3" x2="814.1" y2="1190.3" stroke="#000" stroke-width="2.5"/>
<text transform="translate(813.17,1218.90) scale(0.82,1)" font-size="29" font-weight="bold" fill="#000" text-anchor="middle">2012</text>
<line x1="951.4" y1="1181.3" x2="951.4" y2="1190.3" stroke="#000" stroke-width="2.5"/>
<text transform="translate(950.48,1218.90) scale(0.82,1)" font-size="29" font-weight="bold" fill="#000" text-anchor="middle">2014</text>
<line x1="1088.7" y1="1181.3" x2="1088.7" y2="1190.3" stroke="#000" stroke-width="2.5"/>
<text transform="translate(1087.80,1218.90) scale(0.82,1)" font-size="29" font-weight="bold" fill="#000" text-anchor="middle">2016</text>
<line x1="1226.0" y1="1181.3" x2="1226.0" y2="1190.3" stroke="#000" stroke-width="2.5"/>
<text transform="translate(1225.11,1218.90) scale(0.82,1)" font-size="29" font-weight="bold" fill="#000" text-anchor="middle">2018</text>
<line x1="1363.3" y1="1181.3" x2="1363.3" y2="1190.3" stroke="#000" stroke-width="2.5"/>
<text transform="translate(1362.43,1218.90) scale(0.82,1)" font-size="29" font-weight="bold" fill="#000" text-anchor="middle">2020</text>
<line x1="1500.6" y1="1181.3" x2="1500.6" y2="1190.3" stroke="#000" stroke-width="2.5"/>
<text transform="translate(1499.74,1218.90) scale(0.82,1)" font-size="29" font-weight="bold" fill="#000" text-anchor="middle">2022</text>
<line x1="1638.0" y1="1181.3" x2="1638.0" y2="1190.3" stroke="#000" stroke-width="2.5"/>
<text transform="translate(1637.05,1218.90) scale(0.82,1)" font-size="29" font-weight="bold" fill="#000" text-anchor="middle">2024</text>
<line x1="1775.3" y1="1181.3" x2="1775.3" y2="1190.3" stroke="#000" stroke-width="2.5"/>
<text transform="translate(1774.37,1218.90) scale(0.82,1)" font-size="29" font-weight="bold" fill="#000" text-anchor="middle">2026</text>
<rect x="63.4" y="722.1" width="673.2" height="106.2" fill="#fff" stroke="#000" stroke-width="3.1"/>
<rect x="71" y="738" width="54" height="6.5" fill="#0000ff"/>
<rect x="71" y="770.4" width="54" height="6.5" fill="#ff0000"/>
<rect x="71" y="794.8" width="54" height="21" fill="#d9d9d9"/>
<text x="134.6" y="749" font-size="28.5" font-weight="bold" fill="#000" text-anchor="start" textLength="563.5" lengthAdjust="spacingAndGlyphs">Jobs Plentiful, percent saying so (Feb = 28.0) &lt;&lt;&lt;</text>
<text x="134.6" y="781" font-size="28.5" font-weight="bold" fill="#000" text-anchor="start" textLength="330" lengthAdjust="spacingAndGlyphs">Quits, million (Dec = 3.2) &gt;&gt;&gt;</text>
<text x="134.6" y="813" font-size="28.5" font-weight="bold" fill="#000" text-anchor="start" textLength="118" lengthAdjust="spacingAndGlyphs">Recession</text>
<text x="63" y="1265" font-size="27" font-weight="bold" fill="#000" text-anchor="start" textLength="906" lengthAdjust="spacingAndGlyphs">Source: LSEG Datastream and © Yardeni Research, and The Conference Board.</text></svg></body></html>
